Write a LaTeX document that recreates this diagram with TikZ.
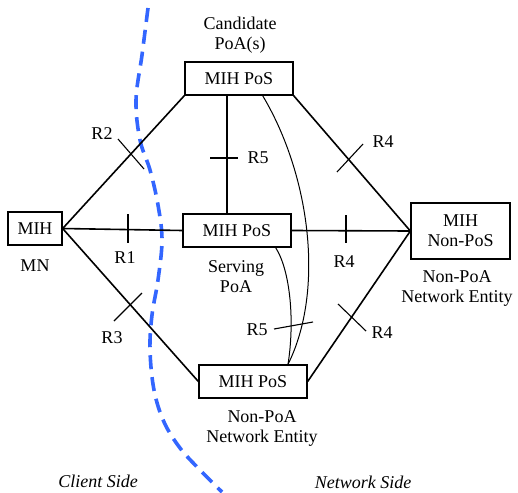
\documentclass[tikz,border=0pt]{standalone}
\usepackage{fontspec}
\setmainfont{Liberation Serif}
\usetikzlibrary{calc}
\definecolor{sideblue}{RGB}{51,102,255}
\begin{document}
\begin{tikzpicture}[x=1pt,y=-1pt,
  box/.style={draw,line width=1.3pt,inner sep=0pt,align=center,font=\fontsize{18}{20}\selectfont},
  lbl/.style={inner sep=0pt,align=center,font=\fontsize{18}{20}\selectfont},
  side/.style={inner sep=0pt,font=\fontsize{18}{20}\selectfont\itshape},
  link/.style={line width=1.6pt},
  tickmark/.style={line width=1.1pt},
  curvelink/.style={line width=1pt}]
\useasboundingbox (0,0) rectangle (518,492);

% boundary
\draw[sideblue,line width=3.6pt,dash pattern=on 14pt off 8pt]
  plot[smooth,tension=0.6] coordinates {(148,8) (142,55) (136,100) (140,140) (150,170) (158,205) (162,240) (158,280) (152,315) (150,350) (154,390) (164,422) (180,448) (200,470) (222,492)};

% nodes
\node[box,minimum width=54pt,minimum height=33pt] (mn) at (35,228.5) {MIH};
\node[box,minimum width=108pt,minimum height=33pt] (cand) at (239,78.5) {MIH PoS};
\node[box,minimum width=108pt,minimum height=33pt] (serv) at (237,230.5) {MIH PoS};
\node[box,minimum width=99pt,minimum height=56pt] (npos) at (460.5,231) {MIH\\Non-PoS};
\node[box,minimum width=108pt,minimum height=33pt] (bot) at (253,381.5) {MIH PoS};

% links
\draw[link] (mn.east) -- (cand.south west);
\draw[link] (mn.east) -- (serv.west);
\draw[link] (mn.east) -- (bot.west);
\draw[link] (cand.south east) -- (npos.west);
\draw[link] (serv.east) -- (npos.west);
\draw[link] (bot.east) -- (npos.west);
\coordinate (vx) at (227,0);
\draw[link] (vx |- cand.south) -- (vx |- serv.north);
\draw[curvelink] ($(cand.south east)+(-31,0)$) .. controls (310,175) and (325,290) .. ($(bot.north)+(35,0)$);
\draw[curvelink] ($(serv.south east)+(-16,0)$) .. controls (290,270) and (295,320) .. ($(bot.north)+(35,0)$);

% ticks
\draw[tickmark] (118,139) -- (144,169);
\draw[tickmark] (128,214) -- (128,243);
\draw[tickmark] (114,321) -- (142,293);
\draw[tickmark] (210,158) -- (238,158);
\draw[tickmark] (337,172) -- (363,144);
\draw[tickmark] (346,215) -- (346,243);
\draw[tickmark] (338,304) -- (366,331);
\draw[tickmark] (274,329) -- (313,322);

% labels
\node[lbl] (lR2) at (102,134) {R2};
\node[lbl] (lR1) at (125,258) {R1};
\node[lbl] (lR3) at (112,338) {R3};
\node[lbl] (lR5a) at (258,158) {R5};
\node[lbl] (lR5b) at (257,330) {R5};
\node[lbl] (lR4a) at (383,142) {R4};
\node[lbl] (lR4b) at (344,262) {R4};
\node[lbl] (lR4c) at (382,333) {R4};
\node[lbl] (lcand) at (240,35) {Candidate\\PoA(s)};
\node[lbl] (lmn) at (35,266) {MN};
\node[lbl] (lserv) at (236,277) {Serving\\PoA};
\node[lbl] (lnpoa1) at (457,288) {Non-PoA\\Network Entity};
\node[lbl] (lnpoa2) at (262,428) {Non-PoA\\Network Entity};
\node[side] (lclient) at (98,481) {Client Side};
\node[side] (lnet) at (363,482) {Network Side};
\end{tikzpicture}
\end{document}
